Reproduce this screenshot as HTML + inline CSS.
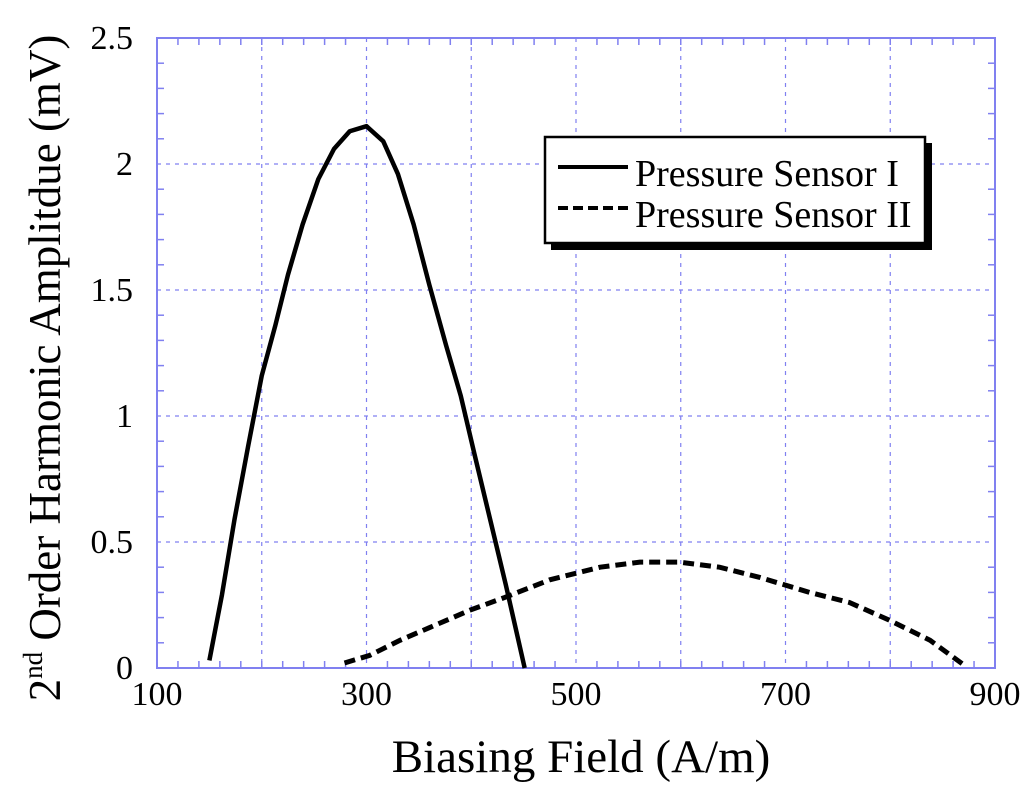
<!DOCTYPE html>
<html><head><meta charset="utf-8"><style>
body{margin:0;background:#fff}
svg text{font-family:"Liberation Serif",serif;fill:#000}
</style></head><body>
<svg id="chart" width="1024" height="784" xmlns="http://www.w3.org/2000/svg">
<g id="grid"></g>
<g id="axes"></g>
<g id="series"></g>
<text x="581" y="772" font-size="47" text-anchor="middle">Biasing Field (A/m)</text>
<text transform="translate(60,368) rotate(-90)" font-size="45" text-anchor="middle">2<tspan font-size="27" dy="-18">nd</tspan><tspan dy="18"> Order Harmonic Amplitdue (mV)</tspan></text>
<g>
<rect x="551" y="143" width="381" height="107" fill="#000"/>
<rect x="545" y="137" width="380" height="106" fill="#fff" stroke="#000" stroke-width="2.5"/>
<line x1="558" y1="167" x2="628" y2="167" stroke="#000" stroke-width="4"/>
<text x="635" y="186" font-size="38">Pressure Sensor I</text>
<line x1="558" y1="208" x2="628" y2="208" stroke="#000" stroke-width="4" stroke-dasharray="10,5"/>
<text x="635" y="227" font-size="38">Pressure Sensor II</text>
</g>
</svg>
<script>
const xTicks=[100,300,500,700,900];
const yTicks=[0,0.5,1,1.5,2,2.5];
const yTickLabels=["0","0.5","1","1.5","2","2.5"];
const s1x=[150,162,174,187,200,213,225,239,254,269,284,300,316,330,345,360,376,390,403,418,433,451];
const s1y=[0.03,0.29,0.59,0.88,1.16,1.36,1.56,1.76,1.94,2.06,2.13,2.15,2.09,1.96,1.76,1.52,1.28,1.08,0.85,0.59,0.33,0];
const s2x=[279,303,332,360,399,432,475,523,561,599,637,675,723,761,799,838,871];
const s2y=[0.02,0.05,0.11,0.16,0.23,0.28,0.35,0.40,0.42,0.42,0.40,0.36,0.30,0.26,0.19,0.11,0.01];
const L=157,R=995,T=38,B=668;
const X=v=>L+(v-100)/800*(R-L);
const Y=v=>B-v/2.5*(B-T);
const NS="http://www.w3.org/2000/svg";
function mk(tag,parent,attrs){const e=document.createElementNS(NS,tag);for(const k in attrs)e.setAttribute(k,attrs[k]);parent.appendChild(e);return e;}
const grid=document.getElementById('grid'),axes=document.getElementById('axes'),series=document.getElementById('series');
const blue="#8080f0";
for(let v=200;v<900;v+=100){const l=mk('line',grid,{x1:X(v),x2:X(v),y1:T,y2:B,stroke:blue,'stroke-width':1.2,'stroke-dasharray':'4,5'});

}
for(let v=0.5;v<2.5;v+=0.5){const l=mk('line',grid,{x1:L,x2:R,y1:Y(v),y2:Y(v),stroke:blue,'stroke-width':1.2,'stroke-dasharray':'4,5'});

}
const frame=mk('rect',axes,{x:L,y:T,width:R-L,height:B-T,fill:'none',stroke:blue,'stroke-width':2});


for(let v=100;v<=900;v+=20){const major=(v-100)%200===0;const len=major?0:7;
if(len){mk('line',axes,{x1:X(v),x2:X(v),y1:B,y2:B-len,stroke:blue,'stroke-width':1.5});mk('line',axes,{x1:X(v),x2:X(v),y1:T,y2:T+len,stroke:blue,'stroke-width':1.5});}}
for(let i=0;i<=25;i++){const v=i/10;if(i%5===0)continue;
mk('line',axes,{x1:L,x2:L+7,y1:Y(v),y2:Y(v),stroke:blue,'stroke-width':1.5});mk('line',axes,{x1:R,x2:R-7,y1:Y(v),y2:Y(v),stroke:blue,'stroke-width':1.5});}
xTicks.forEach(v=>{const t=mk('text',axes,{x:X(v),y:B+37,'font-size':34,'text-anchor':'middle'});t.textContent=v;

});
yTicks.forEach((v,i)=>{const t=mk('text',axes,{x:L-24,y:Y(v)+11,'font-size':34,'text-anchor':'end'});t.textContent=yTickLabels[i];

});
const p1=mk('polyline',series,{points:s1x.map((x,i)=>X(x)+','+Y(s1y[i])).join(' '),fill:'none',stroke:'#000','stroke-width':4.5,'stroke-linejoin':'round'});


const p2=mk('polyline',series,{points:s2x.map((x,i)=>X(x)+','+Y(s2y[i])).join(' '),fill:'none',stroke:'#000','stroke-width':5,'stroke-dasharray':'11,6'});


</script>
</body></html>
